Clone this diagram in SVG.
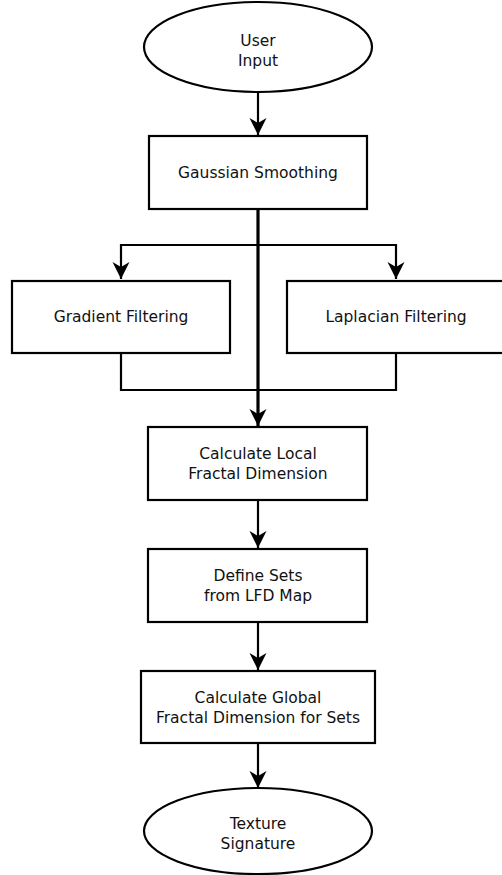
<svg xmlns="http://www.w3.org/2000/svg" width="502" height="875" viewBox="0 0 502 875">
  <style>
    .shape { fill: #ffffff; stroke: #000000; stroke-width: 2.2; }
    .label { font-family: "DejaVu Sans", "Liberation Sans", sans-serif; font-size: 15.5px; fill: #111111; text-anchor: middle; }
    .wire { fill: none; stroke: #000000; stroke-width: 2.2; }
    .trunk { fill: none; stroke: #000000; stroke-width: 3.2; }
  </style>
  <defs>
    <marker id="arrow" markerUnits="userSpaceOnUse" markerWidth="20" markerHeight="20" viewBox="0 0 20 20" refX="17" refY="10" orient="auto">
      <path d="M0,1.5 L17,10 L0,18.5 L5,10 Z" fill="#000000"/>
    </marker>
  </defs>
  <rect width="502" height="875" fill="#ffffff"/>

  <g id="connectors">
    <line class="wire" x1="258" y1="92" x2="258" y2="135" marker-end="url(#arrow)"/>
    <path class="wire" d="M258,245 L121,245 L121,279" marker-end="url(#arrow)"/>
    <path class="wire" d="M258,245 L396,245 L396,279" marker-end="url(#arrow)"/>
    <path class="wire" d="M121,353 L121,390 L396,390 L396,353"/>
    <line class="trunk" x1="258" y1="209" x2="258" y2="426" marker-end="url(#arrow)"/>
    <line class="wire" x1="258" y1="500" x2="258" y2="548" marker-end="url(#arrow)"/>
    <line class="wire" x1="258" y1="622" x2="258" y2="670" marker-end="url(#arrow)"/>
    <line class="wire" x1="258" y1="743" x2="258" y2="788" marker-end="url(#arrow)"/>
  </g>

  <g id="user-input">
    <ellipse class="shape" cx="258" cy="47" rx="114" ry="45"/>
    <text class="label" x="258" y="46">User</text>
    <text class="label" x="258" y="66">Input</text>
  </g>

  <g id="gaussian-smoothing">
    <rect class="shape" x="149" y="136" width="218" height="73"/>
    <text class="label" x="258" y="178">Gaussian Smoothing</text>
  </g>

  <g id="gradient-filtering">
    <rect class="shape" x="12" y="281" width="218" height="72"/>
    <text class="label" x="121" y="322">Gradient Filtering</text>
  </g>

  <g id="laplacian-filtering">
    <rect class="shape" x="287" y="281" width="218" height="72"/>
    <text class="label" x="396" y="322">Laplacian Filtering</text>
  </g>

  <g id="local-fractal-dimension">
    <rect class="shape" x="148" y="427" width="219" height="73"/>
    <text class="label" x="258" y="459">Calculate Local</text>
    <text class="label" x="258" y="479">Fractal Dimension</text>
  </g>

  <g id="define-sets">
    <rect class="shape" x="148" y="549" width="219" height="73"/>
    <text class="label" x="258" y="581">Define Sets</text>
    <text class="label" x="258" y="601">from LFD Map</text>
  </g>

  <g id="global-fractal-dimension">
    <rect class="shape" x="141" y="671" width="234" height="72"/>
    <text class="label" x="258" y="703">Calculate Global</text>
    <text class="label" x="258" y="723">Fractal Dimension for Sets</text>
  </g>

  <g id="texture-signature">
    <ellipse class="shape" cx="258" cy="831" rx="114" ry="43"/>
    <text class="label" x="258" y="829">Texture</text>
    <text class="label" x="258" y="849">Signature</text>
  </g>
</svg>
